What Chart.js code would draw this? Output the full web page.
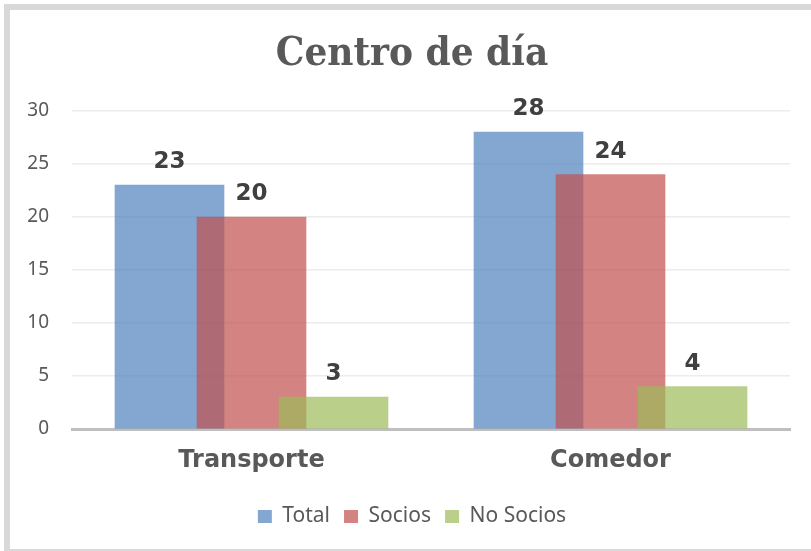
<!DOCTYPE html>
<html lang="es">

<head>
    <meta charset="UTF-8">
    <title>Centro de día</title>
    <script src="https://cdn.jsdelivr.net/npm/chart.js"></script>
    <style>
        body { margin: 0; background: #fff; overflow: hidden; }
        .marco {
            position: absolute; left: 4px; top: 4px; width: 900px; height: 551px;
            border: 6px solid #d9d9d9; box-sizing: border-box;
        }
        #grafico { position: absolute; left: 0; top: 0; }
    </style>
</head>

<body>
    <div class="marco"></div>
    <canvas id="grafico" width="811" height="551"></canvas>
</body>

</html>

<script>
    // datos
    const categorias = ['Transporte', 'Comedor'];
    const series = ['Total', 'Socios', 'No Socios'];
    const total = [23, 28];
    const socios = [20, 24];
    const noSocios = [3, 4];
    const ticksY = [0, 5, 10, 15, 20, 25, 30];

    const colores = ['rgba(79,129,189,0.7)', 'rgba(192,80,77,0.7)', 'rgba(155,187,89,0.7)'];
    const paso = 0.2284; // separación entre barras (barras solapadas)

    function puntos(valores, s) {
        return valores.map((v, i) => ({ x: i + 0.5 + (s - 1) * paso, y: v }));
    }

    const etiquetas = {
        id: 'etiquetas',
        afterDatasetsDraw(chart) {
            const ctx = chart.ctx;
            ctx.save();
            ctx.font = 'bold 23px "DejaVu Sans"';
            ctx.fillStyle = '#404040';
            ctx.textAlign = 'center';
            ctx.textBaseline = 'alphabetic';
            chart.data.datasets.forEach((ds, i) => {
                chart.getDatasetMeta(i).data.forEach((el, j) => {
                    ctx.fillText(ds.data[j].y, el.x, el.y - 17);
                });
            });
            ctx.restore();
        }
    };

    new Chart(document.getElementById('grafico'), {
        type: 'bar',
        data: {
            datasets: [
                { label: series[0], data: puntos(total, 0), backgroundColor: colores[0], order: 3 },
                { label: series[1], data: puntos(socios, 1), backgroundColor: colores[1], order: 2 },
                { label: series[2], data: puntos(noSocios, 2), backgroundColor: colores[2], order: 1 }
            ]
        },
        options: {
            responsive: false,
            animation: false,
            grouped: false,
            barThickness: 109,
            layout: { padding: { left: 13, right: 0, top: 0, bottom: 14 } },
            scales: {
                x: {
                    type: 'linear',
                    min: 0,
                    max: categorias.length,
                    offset: false,
                    afterBuildTicks: (scale) => {
                        scale.ticks = categorias.map((c, i) => ({ value: i + 0.5 }));
                    },
                    afterFit: (scale) => { scale.height = 63; },
                    ticks: {
                        padding: 17,
                        color: '#595959',
                        font: { family: 'DejaVu Sans', size: 24, weight: 'bold' },
                        callback: (v) => categorias[Math.round(v - 0.5)]
                    },
                    grid: { display: false, drawTicks: false },
                    border: { color: '#bfbfbf', width: 3 }
                },
                y: {
                    min: 0,
                    max: 30,
                    afterBuildTicks: (scale) => {
                        scale.ticks = ticksY.map(v => ({ value: v }));
                    },
                    afterFit: (scale) => { scale.width = 59; },
                    ticks: {
                        padding: 23,
                        color: '#595959',
                        font: { family: 'Noto Sans', size: 19 }
                    },
                    grid: { color: '#ececec', lineWidth: 1.5, drawTicks: false },
                    border: { display: false }
                },
                // eje vacío a la derecha, solo deja el margen
                margen: {
                    position: 'right',
                    afterFit: (scale) => { scale.width = 21; },
                    ticks: { display: false },
                    grid: { display: false, drawTicks: false },
                    border: { display: false }
                }
            },
            plugins: {
                title: {
                    display: true,
                    text: 'Centro de día',
                    color: '#595959',
                    font: { family: '"DejaVu Serif Condensed", "DejaVu Serif"', size: 40, weight: 'bold' },
                    padding: { top: 31, bottom: 32 }
                },
                legend: {
                    position: 'bottom',
                    labels: {
                        color: '#595959',
                        font: { family: 'Noto Sans', size: 21 },
                        boxWidth: 14,
                        boxHeight: 13,
                        padding: 14,
                        sort: (a, b) => a.datasetIndex - b.datasetIndex
                    }
                },
                tooltip: { enabled: false }
            }
        },
        plugins: [etiquetas]
    });
</script>
